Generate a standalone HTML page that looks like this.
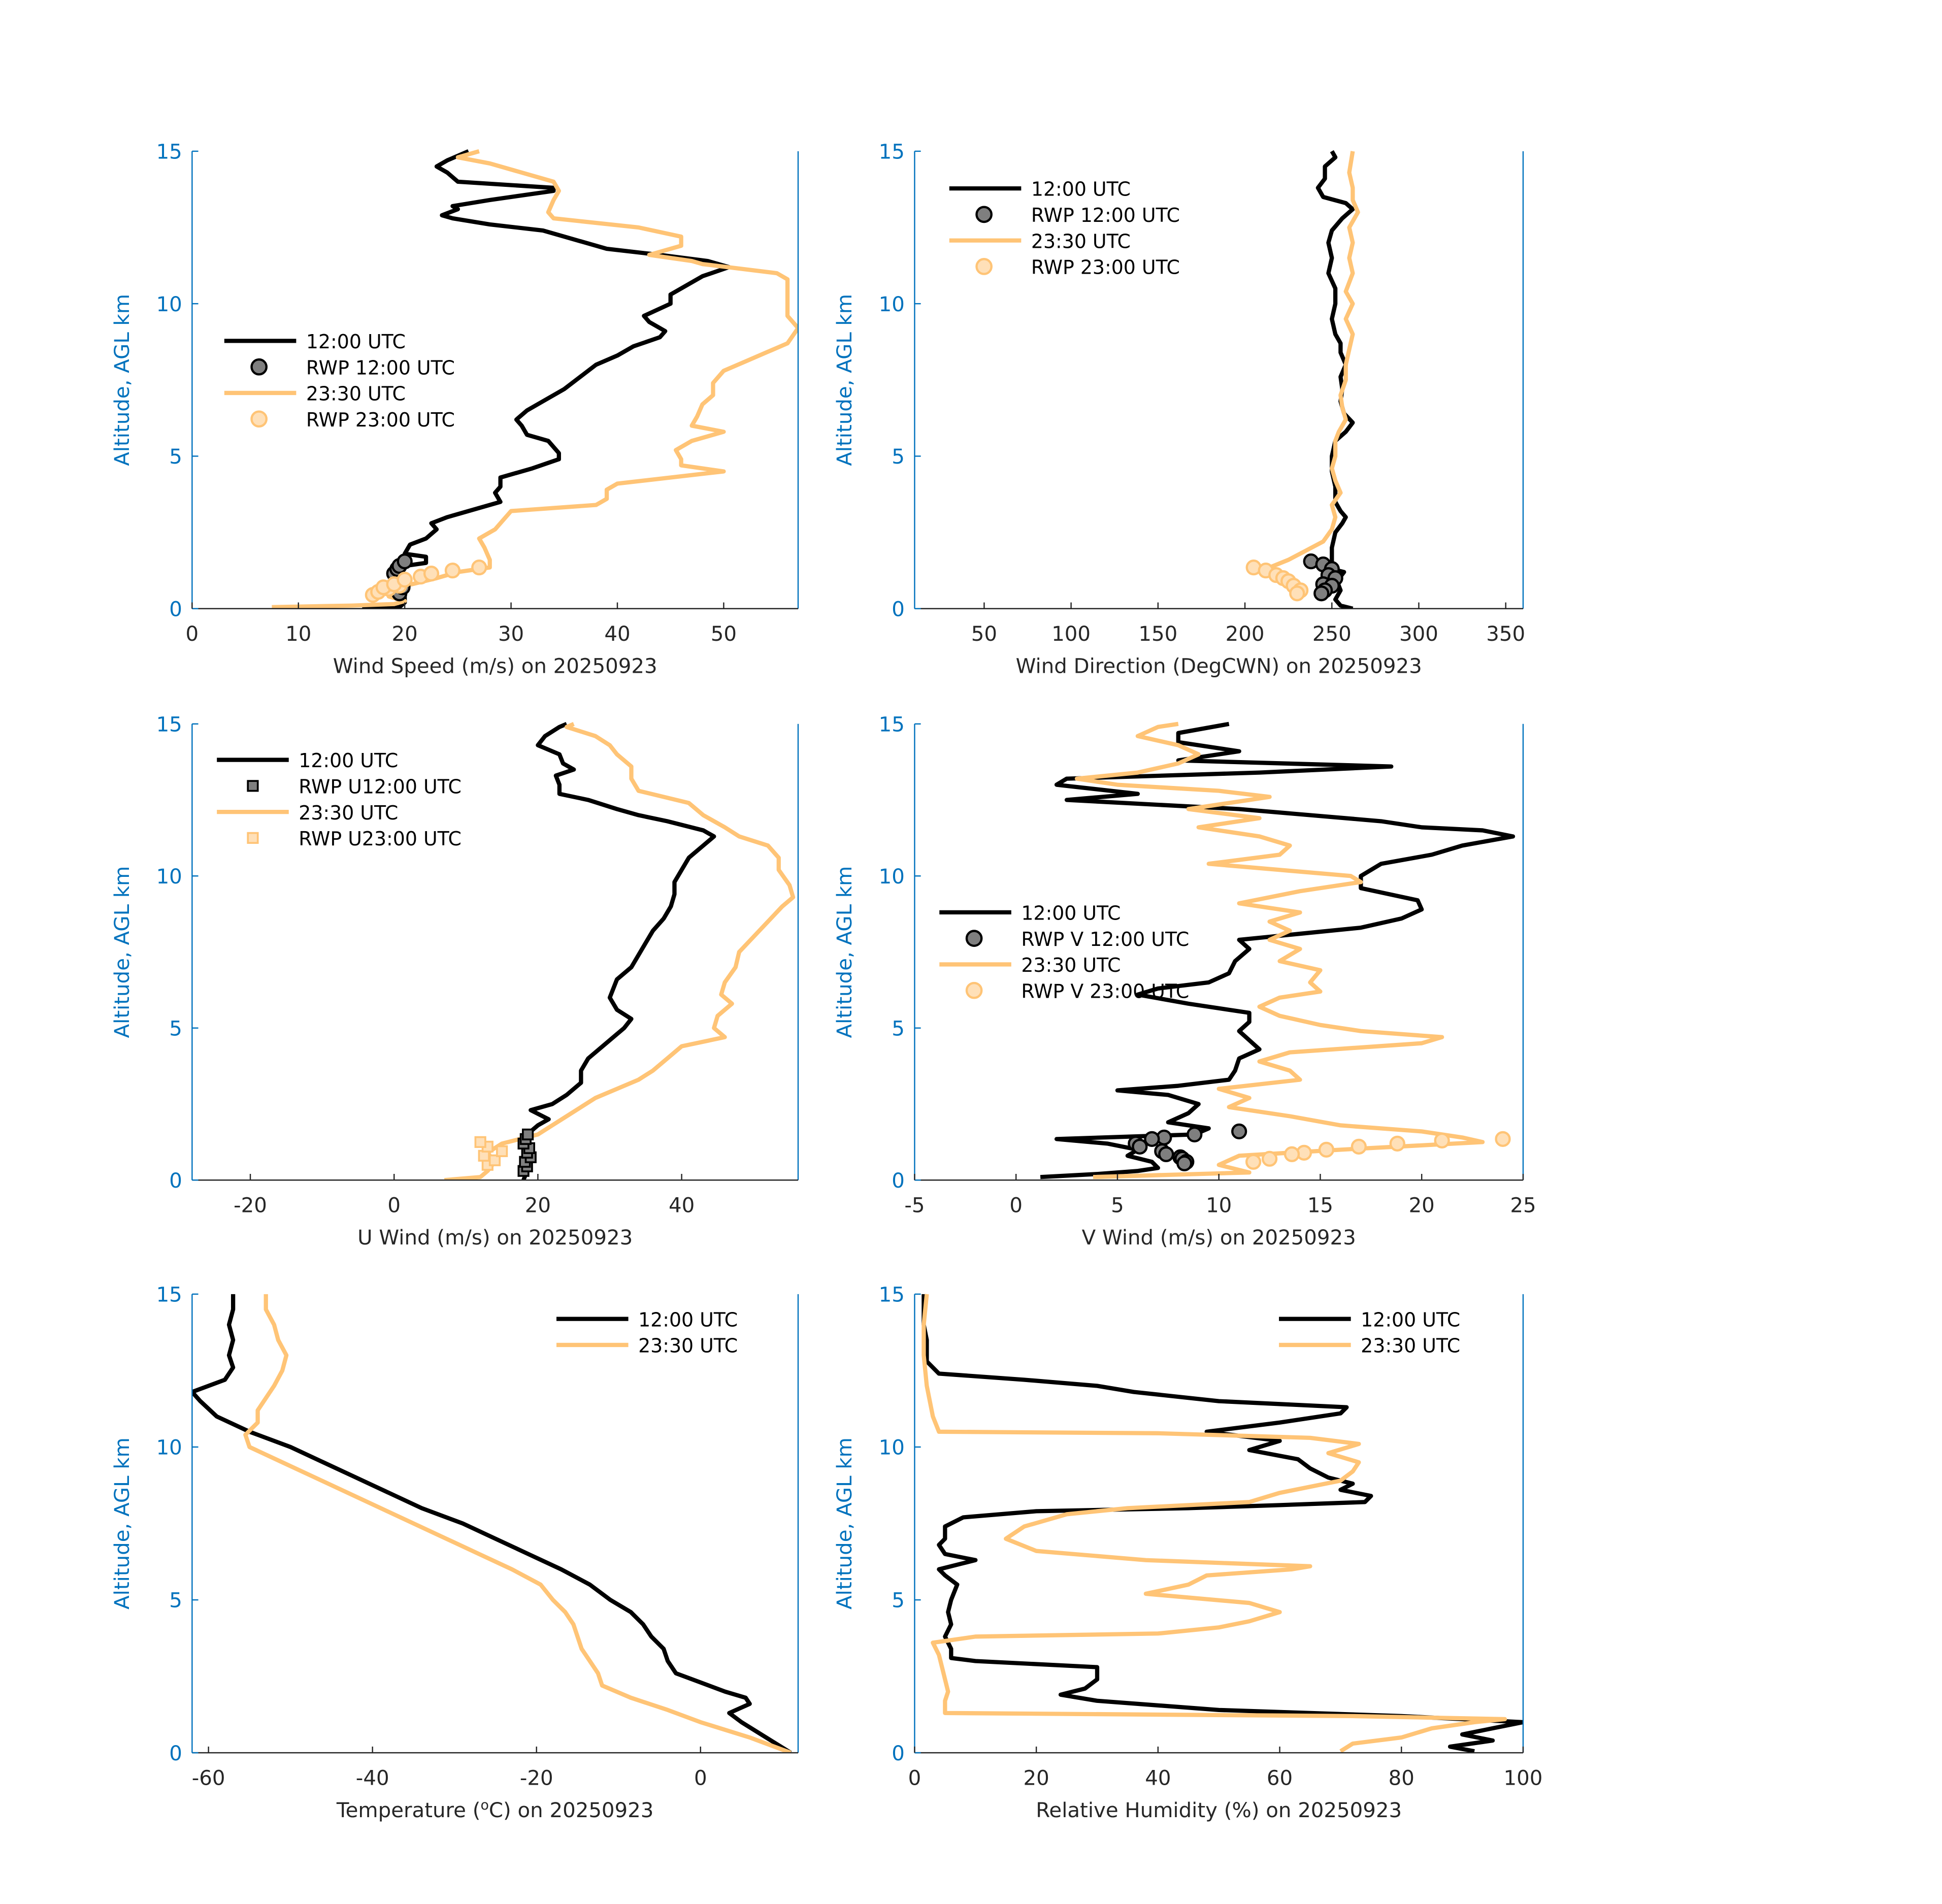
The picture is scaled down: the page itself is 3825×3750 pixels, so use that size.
<!DOCTYPE html>
<html><head><meta charset="utf-8">
<style>
html,body{margin:0;padding:0;background:#fff;}
svg{display:block;}
text{font-family:"DejaVu Sans","Liberation Sans",sans-serif;}
</style></head>
<body>
<svg id="fig" xmlns="http://www.w3.org/2000/svg" width="3825" height="3750" viewBox="0 0 1567 1536" preserveAspectRatio="none"></svg>
<script>
// ---- Panel 1: wind speed ----
const wsAlt12 = [0,0.05,0.2,0.5,0.8,1.2,1.4,1.5,1.7,1.8,2.1,2.3,2.6,2.8,3.0,3.3,3.5,3.8,4.0,4.3,4.6,4.9,5.1,5.5,5.7,6.0,6.2,6.5,6.8,7.2,7.6,8.0,8.3,8.6,8.9,9.1,9.4,9.6,10.0,10.3,10.6,10.9,11.2,11.4,11.6,11.8,12.2,12.4,12.6,12.8,12.9,13.1,13.2,13.4,13.7,13.8,14.0,14.3,14.5,14.7,15];
const wsVal12 = [16,19.5,20,20,19.5,19,20,22,22,20,20.5,22,23,22.5,24,27,29,28.5,29,29,32,34.5,34.5,33.5,31.5,31,30.5,31.5,33,35,36.5,38,40,41.5,44,44.5,43,42.5,45,45,46.5,48,50.5,48.5,44,39,35,33,28,24.5,23.5,25,24.5,28,34,34,25,24,23,24,26];
const wsAlt23 = [0.05,0.1,0.15,0.25,0.4,0.7,1.0,1.2,1.35,1.6,2.0,2.3,2.6,3.0,3.2,3.4,3.6,3.9,4.1,4.3,4.5,4.7,4.9,5.2,5.5,5.8,6.0,6.3,6.7,7.0,7.4,7.8,8.1,8.4,8.7,9.2,9.6,10.0,10.5,10.8,11.0,11.3,11.4,11.6,11.9,12.2,12.5,12.8,13.0,13.4,13.7,14.0,14.3,14.6,14.8,15];
const wsVal23 = [7.5,15,19,20,18.5,19.5,23,25,28,28,27.5,27,28.5,29.5,30,38,39,39,40,45,50,46,46,45.5,47,50,47,47.5,48,49,49,50,52,54,56,57,56,56,56,56,55,48,47,43,46,46,42,34,33.5,34,34.5,34,31,28,25,27];
const wsRwpAlt12 = [0.5,0.7,0.85,1.0,1.15,1.3,1.4,1.55];
const wsRwpVal12 = [19.5,19.8,19.5,19.2,19,19.3,19.5,20];
const wsRwpAlt23 = [0.45,0.55,0.65,0.7,0.75,0.8,0.95,1.05,1.15,1.25,1.35];
const wsRwpVal23 = [17,17.5,18.5,18,19.5,19,20,21.5,22.5,24.5,27];
// ---- Panel 2: wind direction ----
const wdAlt12 = [0,0.1,0.3,0.6,0.9,1.2,1.3,1.6,2,2.5,2.8,3.0,3.2,3.5,4,4.5,5,5.5,5.8,6.1,6.4,6.8,7.2,7.6,8,8.4,8.7,9,9.5,10,10.5,11,11.5,12,12.4,12.8,13.1,13.3,13.5,13.8,14.1,14.5,14.8,15];
const wdVal12 = [262,255,252,255,253,257,250,250,250,252,256,258,255,252,252,250,250,252,258,262,257,255,256,255,258,255,255,252,250,252,252,248,250,248,250,256,262,258,245,242,246,246,252,250];
const wdAlt23 = [0.5,0.7,0.9,1.1,1.3,1.6,1.9,2.2,2.6,3.0,3.4,3.8,4.2,4.6,5.0,5.5,5.8,6.2,6.6,7.0,7.5,8,8.5,9,9.5,10,10.4,11,11.5,12,12.5,13,13.4,13.8,14.3,15];
const wdVal23 = [230,225,222,215,212,225,235,245,250,252,250,255,252,250,252,252,254,258,256,255,258,258,260,262,258,262,258,262,260,262,260,265,262,262,260,262];
const wdRwpAlt12 = [1.55,1.45,1.3,1.1,1.0,0.8,0.75,0.6,0.5];
const wdRwpVal12 = [238,245,250,248,252,245,250,246,244];
const wdRwpAlt23 = [1.35,1.25,1.1,1.0,0.9,0.75,0.6,0.5];
const wdRwpVal23 = [205,212,218,222,225,228,232,230];
// ---- Panel 3: U wind ----
const uAlt12 = [0,0.3,0.6,0.9,1.2,1.5,1.8,2.0,2.3,2.5,2.8,3.2,3.6,4,4.4,4.8,5.0,5.3,5.6,6,6.3,6.6,7,7.4,7.8,8.2,8.6,9.0,9.4,9.8,10.2,10.6,11,11.3,11.5,11.8,12,12.2,12.5,12.7,13.0,13.3,13.5,13.7,14,14.3,14.6,14.9,15];
const uVal12 = [18,18.5,18,18.5,18,18.5,20,21.5,19,22,24,26,26,27,29,31,32,33,31,30,30.5,31,33,34,35,36,37.5,38.5,39,39,40,41,43,44.5,43,38,34,31,27,23,23,22.5,25,23.5,23,20,21,23,24];
const uAlt23 = [0,0.1,0.3,0.6,0.9,1.2,1.5,1.8,2.1,2.4,2.7,3.0,3.3,3.6,4,4.4,4.7,5.0,5.4,5.8,6.1,6.5,7,7.5,8,8.5,9,9.3,9.7,10.2,10.6,11,11.3,11.6,12,12.4,12.8,13.2,13.6,14,14.3,14.6,14.9,15];
const uVal23 = [7,12,13,14,13,15,20,22,24,26,28,31,34,36,38,40,46,44.5,45,47,45.5,46,47.5,48,50,52,54,55.5,55,53.5,53.5,52,48,46,43,41,34,33,33,31,30,28,24,25];
const uRwpAlt12 = [0.3,0.45,0.6,0.75,0.9,1.05,1.2,1.35,1.5];
const uRwpVal12 = [18,18.5,18.2,19,18.5,18.8,18,18.3,18.6];
const uRwpAlt23 = [0.5,0.65,0.8,0.95,1.1,1.25];
const uRwpVal23 = [13,14,12.5,15,13,12];
// ---- Panel 4: V wind ----
const vAlt12 = [0.1,0.2,0.3,0.4,0.6,0.8,1.0,1.2,1.35,1.5,1.7,1.9,2.2,2.5,2.8,2.95,3.1,3.3,3.6,4,4.3,4.6,4.9,5.2,5.5,5.8,6.1,6.3,6.5,6.8,7.2,7.6,7.9,8.1,8.3,8.6,8.9,9.2,9.6,10,10.4,10.7,11.0,11.3,11.5,11.6,11.8,12.2,12.5,12.7,13.0,13.2,13.4,13.6,13.8,14.1,14.4,14.7,15];
const vVal12 = [1.2,4,6,7,6.7,5.5,6,4.5,2,8.8,9.5,7.5,8.5,9,7.5,5,8,10.5,10.8,11,12,11.5,11,11.5,11.5,8.5,6,7,9.5,10.5,10.8,11.5,11,14,17,19,20,19.8,17,17,18,20.5,22,24.5,23,20,18,11,2.5,6,2,2.5,12,18.5,8,11,8,8,10.5];
const vAlt23 = [0.1,0.25,0.5,0.8,1.0,1.25,1.4,1.6,1.8,2.1,2.4,2.7,3.0,3.3,3.6,3.9,4.2,4.5,4.7,4.9,5.1,5.4,5.7,6.0,6.2,6.5,6.9,7.2,7.6,7.9,8.2,8.5,8.8,9.1,9.5,9.8,10.0,10.2,10.4,10.7,11.0,11.3,11.6,11.9,12.2,12.6,12.8,13.0,13.2,13.4,13.7,14.0,14.3,14.6,14.9,15];
const vVal23 = [3.8,11.5,10,11,16,23,22,20,16,13.5,10.5,11.5,10,14,13.5,12,13.5,20,21,17,15,13,12,13,15,14.5,15,13,14,12.5,13.5,12.5,14,11,14,17,16.5,13,9.5,13,13.5,12,9,12,8.5,12.5,10,5,3,6,8,9,8,6,7,8];
const vRwpAlt12 = [1.6,1.5,1.4,1.35,1.2,1.1,0.95,0.85,0.75,0.7,0.6,0.55];
const vRwpVal12 = [11,8.8,7.3,6.7,5.9,6.1,7.2,7.4,8.1,8.2,8.4,8.3];
const vRwpAlt23 = [1.35,1.3,1.2,1.1,1.0,0.9,0.85,0.7,0.6];
const vRwpVal23 = [24,21,18.8,16.9,15.3,14.2,13.6,12.5,11.7];
// ---- Panel 5: temperature ----
const tAlt12 = [0,0.5,1.0,1.3,1.6,1.8,2.0,2.3,2.6,3.0,3.4,3.8,4.2,4.6,5.0,5.5,6.0,6.5,7.0,7.5,8.0,8.5,9.0,9.5,10,10.5,11.0,11.5,11.8,12.2,12.6,13,13.5,14,14.5,15];
const tVal12 = [11,8,5,3.5,6,5.5,3,0,-3,-4,-4.5,-6,-7,-8.5,-11,-13.5,-17,-21,-25,-29,-34,-38,-42,-46,-50,-55,-59,-61,-62,-58,-57,-57.5,-57,-57.5,-57,-57];
const tAlt23 = [0,0.5,1.0,1.4,1.8,2.2,2.6,3.0,3.4,3.8,4.2,4.6,5.0,5.5,6.0,6.5,7.0,7.5,8.0,8.5,9.0,9.5,10,10.4,10.8,11.2,11.6,12,12.5,13,13.5,14,14.5,15];
const tVal23 = [11,6,0,-4,-8.5,-12,-12.5,-13.5,-14.5,-15,-15.5,-16.5,-18,-19.5,-23,-27,-31,-35,-39,-43,-47,-51,-55,-55.5,-54,-54,-53,-52,-51,-50.5,-51.5,-52,-53,-53];
// ---- Panel 6: relative humidity ----
const rhAlt12 = [0.05,0.2,0.4,0.6,0.8,1.0,1.2,1.4,1.7,1.9,2.1,2.4,2.8,3.0,3.1,3.4,3.8,4.2,4.6,5.0,5.5,5.8,6.0,6.2,6.3,6.5,6.8,7.0,7.4,7.7,7.9,8.0,8.1,8.2,8.4,8.6,8.8,9.0,9.3,9.6,9.9,10.2,10.5,10.8,11.1,11.3,11.5,11.8,12.0,12.2,12.4,12.8,13.5,14,15];
const rhVal12 = [92,88,95,90,95,100,80,50,30,24,28,30,30,10,6,6,5,6,5.5,6,7,5,4,8,10,5,4,5,5,8,20,45,60,74,75,70,72,68,65,63,55,60,48,60,70,71,50,36,30,18,4,2,2,1.5,1.5];
const rhAlt23 = [0.05,0.3,0.5,0.8,1.0,1.1,1.2,1.3,1.7,2.0,2.4,2.8,3.2,3.6,3.8,3.9,4.1,4.3,4.6,4.9,5.2,5.5,5.8,6.0,6.1,6.3,6.6,7.0,7.4,7.8,8.0,8.2,8.5,8.9,9.2,9.5,9.8,10.1,10.3,10.45,10.5,11,11.5,12,13,14,15];
const rhVal23 = [70,72,80,85,92,97,72,5,5,5.5,5,4.5,4,3,10,40,50,55,60,55,38,45,48,62,65,38,20,15,18,25,35,55,60,70,72,73,68,73,65,40,4,3,2.5,2,1.5,1.5,2];

const NS='http://www.w3.org/2000/svg';
const svg=document.getElementById('fig');
const BLK='#000000', ORG='#FFC476', BLUE='#0072BD';
function mk(tag,attrs,parent){const e=document.createElementNS(NS,tag);for(const k in attrs)e.setAttribute(k,attrs[k]);(parent||svg).appendChild(e);return e;}
function txt(s,x,y,attrs,parent){const t=mk('text',Object.assign({x:x,y:y},attrs),parent);t.textContent=s;return t;}

function panel(cfg){
  const g=mk('g',{});
  
  
  const L=cfg.L,R=cfg.R,T=cfg.T,B=cfg.B;
  const sx=v=>L+(v-cfg.xmin)/(cfg.xmax-cfg.xmin)*(R-L);
  const sy=a=>B-(a/15)*(B-T);
  const clip='clip-'+cfg.name;
  const cp=mk('clipPath',{id:clip},g);mk('rect',{x:L,y:T-2,width:R-L,height:B-T+2},cp);
  cfg.lines.forEach(s=>{
    const d=s.alt.map((a,i)=>(i?'L':'M')+sx(s.val[i]).toFixed(2)+','+sy(a).toFixed(2)).join(' ');
    const p=mk('path',{d:d,fill:'none',stroke:s.color,'stroke-width':3.4,'stroke-linejoin':'round','clip-path':'url(#'+clip+')'},g);
    
    
  });
  (cfg.marks||[]).forEach(s=>{
    s.alt.forEach((a,i)=>{
      let m;
      if(s.shape==='sq'){m=mk('rect',{x:sx(s.val[i])-4,y:sy(a)-4,width:8,height:8,fill:s.fill,stroke:s.stroke,'stroke-width':1.5},g);}
      else {m=mk('circle',{cx:sx(s.val[i]),cy:sy(a),r:5.5,fill:s.fill,stroke:s.stroke,'stroke-width':1.8},g);}
      
      
    });
  });
  const ax=mk('g',{},g);
  
  
  mk('line',{x1:L,y1:T,x2:L,y2:B,stroke:BLUE,'stroke-width':1},ax);
  mk('line',{x1:R,y1:T,x2:R,y2:B,stroke:BLUE,'stroke-width':1},ax);
  mk('line',{x1:L,y1:B,x2:R,y2:B,stroke:'#262626','stroke-width':1},ax);
  [0,5,10,15].forEach(v=>{
    mk('line',{x1:L,y1:sy(v),x2:L+5,y2:sy(v),stroke:BLUE,'stroke-width':1},ax);
    const t=txt(String(v),L-8,sy(v)+6,{'font-size':16.5,fill:BLUE,'text-anchor':'end'},ax);
    
    
  });
  cfg.xticks.forEach(v=>{
    mk('line',{x1:sx(v),y1:B,x2:sx(v),y2:B-5,stroke:'#262626','stroke-width':1},ax);
    const t=txt(String(v),sx(v),B+26,{'font-size':16.5,fill:'#262626','text-anchor':'middle'},ax);
    
    
  });
  const yl=txt('Altitude, AGL km',0,0,{'font-size':16.5,fill:BLUE,'text-anchor':'middle',transform:'translate('+(L-51)+','+((T+B)/2)+') rotate(-90)'},g);
  
  
  const xl=txt(cfg.xlabel,(L+R)/2,B+52,{'font-size':16.5,fill:'#262626','text-anchor':'middle'},g);
  if(cfg.sup){const ts=mk('tspan',{'baseline-shift':'super','font-size':11},xl);ts.textContent='o';const ts2=mk('tspan',{},xl);ts2.textContent='C) on 20250923';}
  
  
  const lg=mk('g',{},g);
  
  
  cfg.legend.items.forEach((it,i)=>{
    const y=cfg.legend.y+i*21;const x0=cfg.legend.x;
    if(it.type==='line')mk('line',{x1:x0,y1:y,x2:x0+58,y2:y,stroke:it.color,'stroke-width':3.4},lg);
    else if(it.type==='sq')mk('rect',{x:x0+25,y:y-4,width:8,height:8,fill:it.fill,stroke:it.stroke,'stroke-width':1.5},lg);
    else mk('circle',{cx:x0+28,cy:y,r:6,fill:it.fill,stroke:it.stroke,'stroke-width':1.8},lg);
    const t=txt(it.label,x0+66,y+6,{'font-size':15.5,fill:'#000'},lg);
    
    
  });
}
const G12={fill:'#7f7f7f',stroke:'#000'}, G23={fill:'#FFE0B8',stroke:'#FFC476'};
function leg(x,y,a,b,shape){
  const items=[{type:'line',color:BLK,label:'12:00 UTC'}];
  if(a)items.push(Object.assign({type:shape},G12,{label:a}));
  items.push({type:'line',color:ORG,label:'23:30 UTC'});
  if(b)items.push(Object.assign({type:shape},G23,{label:b}));
  return {x:x,y:y,items:items};
}
const LC={L:155,R:644}, RC={L:738,R:1229};
const ROW=[{T:122,B:491},{T:584,B:952},{T:1044,B:1414}];
panel(Object.assign({name:'wind-speed-panel',xmin:0,xmax:57,xticks:[0,10,20,30,40,50],xlabel:'Wind Speed (m/s) on 20250923',
  lines:[{alt:wsAlt12,val:wsVal12,color:BLK,name:'speed-1200-line'},{alt:wsAlt23,val:wsVal23,color:ORG,name:'speed-2330-line'}],
  marks:[{alt:wsRwpAlt12,val:wsRwpVal12,fill:G12.fill,stroke:G12.stroke,name:'rwp-1200-point'},{alt:wsRwpAlt23,val:wsRwpVal23,fill:G23.fill,stroke:G23.stroke,name:'rwp-2300-point'}],
  legend:leg(181,275,'RWP 12:00 UTC','RWP 23:00 UTC','c')},LC,ROW[0]));
panel(Object.assign({name:'wind-direction-panel',xmin:10,xmax:360,xticks:[50,100,150,200,250,300,350],xlabel:'Wind Direction (DegCWN) on 20250923',
  lines:[{alt:wdAlt12,val:wdVal12,color:BLK,name:'direction-1200-line'},{alt:wdAlt23,val:wdVal23,color:ORG,name:'direction-2330-line'}],
  marks:[{alt:wdRwpAlt12,val:wdRwpVal12,fill:G12.fill,stroke:G12.stroke,name:'rwp-1200-point'},{alt:wdRwpAlt23,val:wdRwpVal23,fill:G23.fill,stroke:G23.stroke,name:'rwp-2300-point'}],
  legend:leg(766,152,'RWP 12:00 UTC','RWP 23:00 UTC','c')},RC,ROW[0]));
panel(Object.assign({name:'u-wind-panel',xmin:-28.1,xmax:56.2,xticks:[-20,0,20,40],xlabel:'U Wind (m/s) on 20250923',
  lines:[{alt:uAlt12,val:uVal12,color:BLK,name:'u-1200-line'},{alt:uAlt23,val:uVal23,color:ORG,name:'u-2330-line'}],
  marks:[{alt:uRwpAlt12,val:uRwpVal12,fill:G12.fill,stroke:G12.stroke,shape:'sq',name:'rwp-u-1200-point'},{alt:uRwpAlt23,val:uRwpVal23,fill:G23.fill,stroke:G23.stroke,shape:'sq',name:'rwp-u-2300-point'}],
  legend:leg(175,613,'RWP U12:00 UTC','RWP U23:00 UTC','sq')},LC,ROW[1]));
panel(Object.assign({name:'v-wind-panel',xmin:-5,xmax:25,xticks:[-5,0,5,10,15,20,25],xlabel:'V Wind (m/s) on 20250923',
  lines:[{alt:vAlt12,val:vVal12,color:BLK,name:'v-1200-line'},{alt:vAlt23,val:vVal23,color:ORG,name:'v-2330-line'}],
  marks:[{alt:vRwpAlt12,val:vRwpVal12,fill:G12.fill,stroke:G12.stroke,name:'rwp-v-1200-point'},{alt:vRwpAlt23,val:vRwpVal23,fill:G23.fill,stroke:G23.stroke,name:'rwp-v-2300-point'}],
  legend:leg(758,736,'RWP V 12:00 UTC','RWP V 23:00 UTC','c')},RC,ROW[1]));
panel(Object.assign({name:'temperature-panel',xmin:-62,xmax:11.9,xticks:[-60,-40,-20,0],xlabel:'Temperature (',sup:true,
  lines:[{alt:tAlt12,val:tVal12,color:BLK,name:'temp-1200-line'},{alt:tAlt23,val:tVal23,color:ORG,name:'temp-2330-line'}],
  legend:leg(449,1064,null,null)},LC,ROW[2]));
panel(Object.assign({name:'humidity-panel',xmin:0,xmax:100,xticks:[0,20,40,60,80,100],xlabel:'Relative Humidity (%) on 20250923',
  lines:[{alt:rhAlt12,val:rhVal12,color:BLK,name:'rh-1200-line'},{alt:rhAlt23,val:rhVal23,color:ORG,name:'rh-2330-line'}],
  legend:leg(1032,1064,null,null)},RC,ROW[2]));
</script>
</body></html>
